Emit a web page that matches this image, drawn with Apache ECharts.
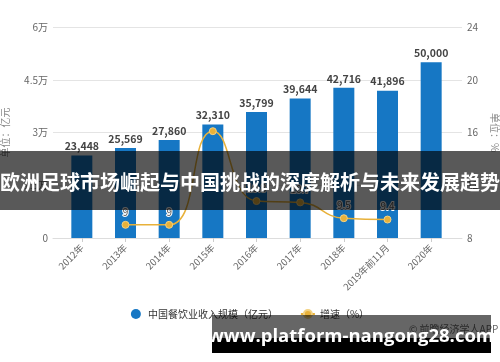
<!DOCTYPE html>
<html>
<head>
<meta charset="utf-8">
<script src="https://cdn.jsdelivr.net/npm/echarts@6/dist/echarts.min.js"></script>
<style>html,body{margin:0;padding:0;background:#fff}#c{width:500px;height:362px}</style>
</head>
<body>
<div id="c"></div>
<script>
const categories = ['2012年','2013年','2014年','2015年','2016年','2017年','2018年','2019年前11月','2020年'];
const revenue = [23448, 25569, 27860, 32310, 35799, 39644, 42716, 41896, 50000];
const growth = [null, 9, 9, 16.1, 10.8, 10.7, 9.5, 9.4, null];
const growthLabelShown = [false, true, true, false, true, true, true, true, false];
const leftTicks = {0:'0', 15000:'1.5万', 30000:'3万', 45000:'4.5万', 60000:'6万'};
const seriesNames = ['中国餐饮业收入规模（亿元）', '增速（%）'];
const bannerTitle = '欧洲足球市场崛起与中国挑战的深度解析与未来发展趋势';
const siteText = 'www.platform-nangong28.com';
const sourceText = '© 前瞻经济学人APP';

const FONT = '"Noto Sans CJK SC", "Noto Sans", sans-serif';
const chart = echarts.init(document.getElementById('c'));
chart.setOption({
  animation: false,
  textStyle: {fontFamily: FONT},
  grid: [
    {left: 60, right: 47, top: 27, bottom: 124, containLabel: false, outerBoundsMode: 'none'},
    {left: 53, right: 38, top: 27, bottom: 124, containLabel: false, outerBoundsMode: 'none'}
  ],
  legend: {
    bottom: 38, left: 'center', itemGap: 22, itemWidth: 14, itemHeight: 10,
    textStyle: {color: '#333', fontSize: 10, fontFamily: FONT},
    data: [{name: seriesNames[0], icon: 'circle'}, {name: seriesNames[1]}]
  },
  xAxis: [
    {type: 'category', gridIndex: 0, data: categories,
     axisLine: {show: false},
     axisTick: {show: true, alignWithLabel: true, length: 4, lineStyle: {color: '#ccc'}},
     axisLabel: {rotate: 45, color: '#666', fontSize: 9.5, margin: 8, interval: 0}},
    {type: 'value', gridIndex: 1, min: 0, max: 1, show: true,
     axisLine: {show: true, lineStyle: {color: '#ddd'}}, axisTick: {show: false},
     axisLabel: {show: false}, splitLine: {show: false}}
  ],
  yAxis: [
    {type: 'value', gridIndex: 0, min: 0, max: 60000, interval: 15000,
     name: '单位：亿元', nameLocation: 'middle', nameGap: 50,
     nameTextStyle: {color: '#888', fontSize: 10},
     axisLine: {show: false}, axisTick: {show: false}, splitLine: {show: false},
     axisLabel: {color: '#666', fontSize: 10, margin: 12, formatter: v => leftTicks[v]}},
    {type: 'value', gridIndex: 0, min: 8, max: 24, interval: 4, position: 'right',
     name: '单位：%', nameLocation: 'middle', nameGap: 37, nameRotate: -90,
     nameTextStyle: {color: '#888', fontSize: 10},
     axisLine: {show: false}, axisTick: {show: false}, splitLine: {show: false},
     axisLabel: {color: '#666', fontSize: 10, margin: 14}},
    {type: 'value', gridIndex: 1, min: 0, max: 4, interval: 1,
     axisLine: {show: false}, axisTick: {show: false}, axisLabel: {show: false},
     splitLine: {show: true, lineStyle: {color: '#e4e4e4'}}}
  ],
  series: [
    {name: seriesNames[0], type: 'bar', xAxisIndex: 0, yAxisIndex: 0, data: revenue,
     barWidth: 21, itemStyle: {color: '#1677c4'},
     label: {show: true, position: 'top', distance: 4, color: '#444', fontWeight: 'bold', fontSize: 10.5,
             formatter: p => p.value.toLocaleString('en-US')}},
    {name: seriesNames[1], type: 'line', xAxisIndex: 0, yAxisIndex: 1,
     data: growth.map((v, i) => ({value: v, label: {show: growthLabelShown[i]}})),
     smooth: 0.5, symbol: 'circle', symbolSize: 7, connectNulls: false,
     lineStyle: {color: '#e8b13a', width: 1.5},
     itemStyle: {color: '#e8b13a', borderColor: '#f3d283', borderWidth: 1},
     label: {show: true, position: 'top', distance: 4, color: '#555', fontSize: 10,
             textBorderColor: '#fff', textBorderWidth: 2}}
  ],
  graphic: [
    {type: 'text', left: 409, top: 324, z: 10,
     style: {text: sourceText, fill: '#666', fontSize: 10, fontFamily: FONT}},
    {type: 'rect', shape: {x: 0, y: 151, width: 500, height: 59}, z: 20,
     style: {fill: 'rgba(0,0,0,0.65)'}},
    {type: 'text', x: 250, y: 182, z: 21,
     style: {text: bannerTitle, fill: '#fff', fontSize: 20, fontWeight: 'bold', fontFamily: FONT,
             align: 'center', verticalAlign: 'middle'}},
    {type: 'rect', shape: {x: 212, y: 315, width: 279, height: 23}, z: 20,
     style: {fill: 'rgba(0,0,0,0.6)'}},
    {type: 'rect', shape: {x: 212, y: 338, width: 279, height: 15}, z: 20,
     style: {fill: '#000'}},
    {type: 'text', x: 351, y: 337, z: 21,
     style: {text: siteText, fill: '#fff', fontSize: 18.5, fontWeight: 'bold', fontFamily: '"Open Sans", sans-serif',
             align: 'center', verticalAlign: 'middle'}}
  ]
});
</script>
</body>
</html>
